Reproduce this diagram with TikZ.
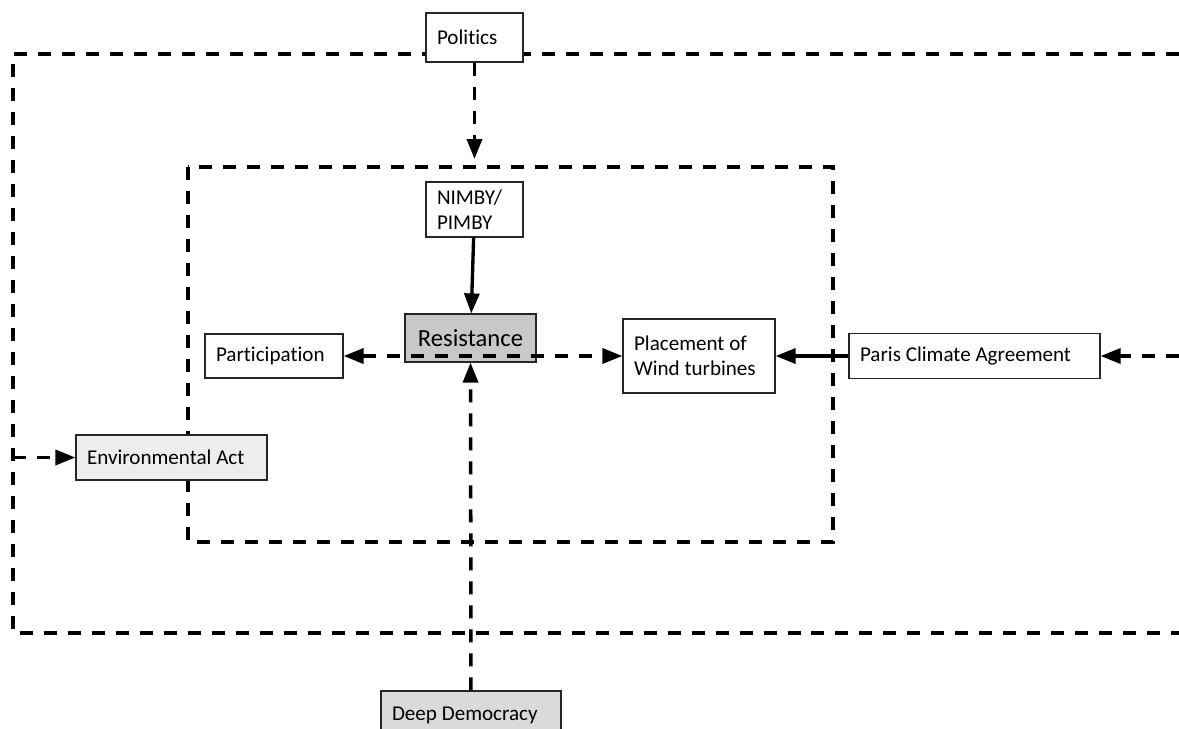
\documentclass[tikz,border=0pt]{standalone}
\usepackage{fontspec}
\setmainfont[Ligatures=NoCommon]{Carlito}
\usepackage{tikz}
\usetikzlibrary{arrows.meta,positioning}
\definecolor{resgray}{RGB}{200,200,200}
\definecolor{deepgray}{RGB}{218,218,218}
\definecolor{envgray}{RGB}{237,237,237}
\tikzstyle{box} = [draw=black!85, line width=0.7pt, fill=white, align=left, inner xsep=2.2mm, inner ysep=0pt, font=\fontsize{12}{14}\selectfont, execute at begin node={\spaceskip=0pt\xspaceskip=0pt}]
\tikzstyle{dashframe} = [line width=2pt, dash pattern=on 2.6mm off 2.2mm]
\tikzstyle{dasharrow} = [dashframe, -{Triangle[length=4mm,width=3mm]}]
\tikzstyle{solidarrow} = [line width=1.9pt, -{Triangle[length=4mm,width=3mm]}]

\begin{document}
\begin{tikzpicture}[x=0.02cm, y=-0.02cm]
    \useasboundingbox (0,0) rectangle (1179,728);
    \clip (0,0) rectangle (1179,728);
    % frames
    \draw[dashframe] (1179,54) -- (13,54) -- (13,633) -- (1179,633);
    \draw[dashframe] (188,167) rectangle (833,542);
    % boxes
    \node (politics) [box, line width=1.1pt, text width=15mm, minimum height=9.8mm] at (474.5,37.5) {Politics};
    \node (nimby) [box, text width=15mm, minimum height=11mm] at (474.5,209.5) {NIMBY/\\PIMBY};
    \node (resistance) [box, fill=resgray, align=center, minimum width=26.2mm, minimum height=9.6mm, font=\fontsize{14}{16}\selectfont] at (470.5,338) {Resistance};
    \node (participation) [box, text width=23.2mm, minimum height=8.8mm] at (274,356) {Participation};
    \node (placement) [box, text width=26mm, minimum height=14.8mm] at (699,356) {Placement of\\Wind turbines};
    \node (paris) [box, text width=45.8mm, minimum height=9mm] at (974.5,356) {Paris Climate Agreement};
    \node (envact) [box, fill=envgray, text width=33.8mm, minimum height=9mm] at (171.5,457.5) {Environmental Act};
    \node (deep) [box, fill=deepgray, text width=31.6mm, minimum height=9.6mm] at (471,715) {Deep Democracy};
    % loose ends
    \coordinate (polend) at (474.5,159);
    \coordinate (rightin) at (1179,356);
    \coordinate (leftin) at (13,457.5);
    % connectors
    \draw[dasharrow] (politics) -- (polend);
    \draw[solidarrow] (nimby) -- (resistance);
    \draw[dashframe, {Triangle[length=4mm,width=3mm]}-{Triangle[length=4mm,width=3mm]}] (participation) -- (placement);
    \draw[solidarrow] (paris) -- (placement);
    \draw[dasharrow] (rightin) -- (paris);
    \draw[dasharrow] (leftin) -- (envact);
    \draw[dasharrow] (deep) -- (resistance);
\end{tikzpicture}
\end{document}
